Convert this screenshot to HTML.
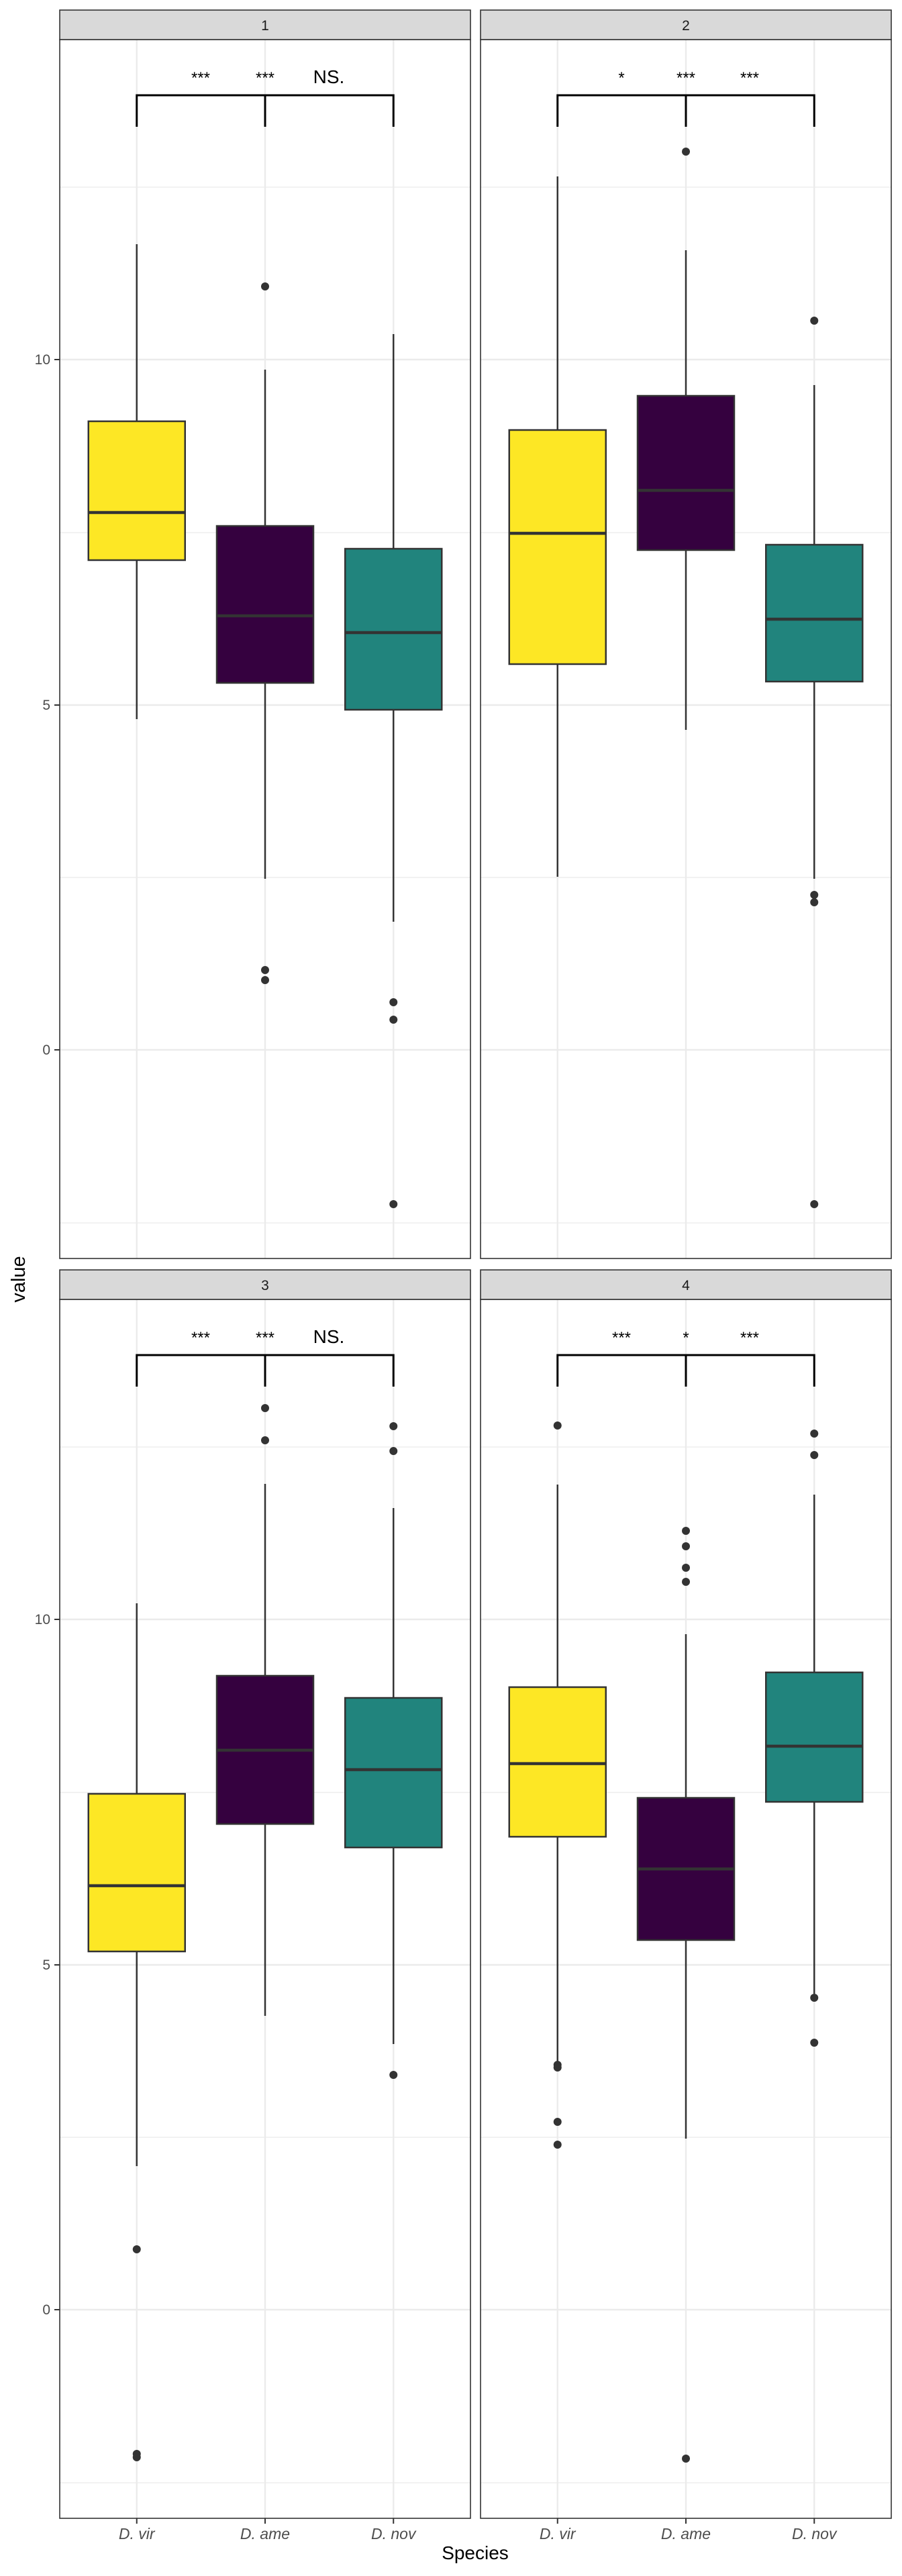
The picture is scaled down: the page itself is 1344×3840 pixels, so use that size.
<!DOCTYPE html>
<html><head><meta charset="utf-8"><style>
html,body{margin:0;padding:0;background:#fff;}
svg{display:block;}
text{font-family:"Liberation Sans",sans-serif;}
</style></head><body>
<svg width="1344" height="3840" viewBox="0 0 1344 3840" xmlns="http://www.w3.org/2000/svg">
<defs>
<g id="grid">
  <rect x="0" y="0" width="612" height="1817" fill="#fff"/>
  <g stroke="#EBEBEB" stroke-width="1.2">
    <line x1="0" x2="612" y1="220" y2="220"/><line x1="0" x2="612" y1="735" y2="735"/>
    <line x1="0" x2="612" y1="1249" y2="1249"/><line x1="0" x2="612" y1="1764" y2="1764"/>
  </g>
  <g stroke="#EBEBEB" stroke-width="2.4">
    <line x1="0" x2="612" y1="477" y2="477"/><line x1="0" x2="612" y1="992" y2="992"/>
    <line x1="0" x2="612" y1="1506" y2="1506"/>
    <line x1="114.75" x2="114.75" y1="0" y2="1817"/><line x1="306" x2="306" y1="0" y2="1817"/>
    <line x1="497.25" x2="497.25" y1="0" y2="1817"/>
  </g>
  <g stroke="#000" stroke-width="3" fill="none">
    <polyline points="114.75,130 114.75,83 497.25,83 497.25,130"/>
    <line x1="306" y1="83" x2="306" y2="130"/>
  </g>
</g>
</defs>

<text x="37" y="1907" font-size="29" text-anchor="middle" transform="rotate(-90 37 1907)" fill="#000">value</text>

<!-- ===== Panel 1 ===== -->
<g transform="translate(89,59)">
  <use href="#grid"/>
  <text x="210" y="65" font-size="24" text-anchor="middle">***</text>
  <text x="306" y="65" font-size="24" text-anchor="middle">***</text>
  <text x="401" y="65" font-size="28" text-anchor="middle">NS.</text>
  <g stroke="#333" stroke-width="2.5">
    <line x1="114.75" x2="114.75" y1="305" y2="1013"/>
    <line x1="306" x2="306" y1="492" y2="1251"/>
    <line x1="497.25" x2="497.25" y1="439" y2="1315"/>
  </g>
  <g stroke="#333" stroke-width="2.5">
    <rect x="42.75" y="569" width="144" height="207" fill="#FDE725"/>
    <rect x="234" y="725" width="144" height="234" fill="#35013F"/>
    <rect x="425.25" y="759" width="144" height="240" fill="#21847D"/>
  </g>
  <g stroke="#333" stroke-width="4.5">
    <line x1="42.75" x2="186.75" y1="705" y2="705"/>
    <line x1="234" x2="378" y1="859" y2="859"/>
    <line x1="425.25" x2="569.25" y1="884" y2="884"/>
  </g>
  <g fill="#333">
    <circle cx="306" cy="368" r="6"/><circle cx="306" cy="1387" r="6"/><circle cx="306" cy="1402" r="6"/>
    <circle cx="497.25" cy="1435" r="6"/><circle cx="497.25" cy="1461" r="6"/><circle cx="497.25" cy="1736" r="6"/>
  </g>
  <rect x="0" y="0" width="612" height="1817" fill="none" stroke="#333" stroke-width="1.6"/>
</g>
<rect x="89" y="15" width="612" height="44" fill="#D9D9D9" stroke="#333" stroke-width="1.6"/>
<text x="395" y="45" font-size="21" text-anchor="middle" fill="#1A1A1A">1</text>

<!-- ===== Panel 2 ===== -->
<g transform="translate(716,59)">
  <use href="#grid"/>
  <text x="210" y="65" font-size="24" text-anchor="middle">*</text>
  <text x="306" y="65" font-size="24" text-anchor="middle">***</text>
  <text x="401" y="65" font-size="24" text-anchor="middle">***</text>
  <g stroke="#333" stroke-width="2.5">
    <line x1="114.75" x2="114.75" y1="204" y2="1248"/>
    <line x1="306" x2="306" y1="314" y2="1029"/>
    <line x1="497.25" x2="497.25" y1="515" y2="1251"/>
  </g>
  <g stroke="#333" stroke-width="2.5">
    <rect x="42.75" y="582" width="144" height="349" fill="#FDE725"/>
    <rect x="234" y="531" width="144" height="230" fill="#35013F"/>
    <rect x="425.25" y="753" width="144" height="204" fill="#21847D"/>
  </g>
  <g stroke="#333" stroke-width="4.5">
    <line x1="42.75" x2="186.75" y1="736" y2="736"/>
    <line x1="234" x2="378" y1="672" y2="672"/>
    <line x1="425.25" x2="569.25" y1="864" y2="864"/>
  </g>
  <g fill="#333">
    <circle cx="306" cy="167" r="6"/>
    <circle cx="497.25" cy="419" r="6"/><circle cx="497.25" cy="1275" r="6"/><circle cx="497.25" cy="1286" r="6"/><circle cx="497.25" cy="1736" r="6"/>
  </g>
  <rect x="0" y="0" width="612" height="1817" fill="none" stroke="#333" stroke-width="1.6"/>
</g>
<rect x="716" y="15" width="612" height="44" fill="#D9D9D9" stroke="#333" stroke-width="1.6"/>
<text x="1022" y="45" font-size="21" text-anchor="middle" fill="#1A1A1A">2</text>

<!-- ===== Panel 3 ===== -->
<g transform="translate(89,1937)">
  <use href="#grid"/>
  <text x="210" y="65" font-size="24" text-anchor="middle">***</text>
  <text x="306" y="65" font-size="24" text-anchor="middle">***</text>
  <text x="401" y="65" font-size="28" text-anchor="middle">NS.</text>
  <g stroke="#333" stroke-width="2.5">
    <line x1="114.75" x2="114.75" y1="453" y2="1292"/>
    <line x1="306" x2="306" y1="275" y2="1068"/>
    <line x1="497.25" x2="497.25" y1="311" y2="1110"/>
  </g>
  <g stroke="#333" stroke-width="2.5">
    <rect x="42.75" y="737" width="144" height="235" fill="#FDE725"/>
    <rect x="234" y="561" width="144" height="221" fill="#35013F"/>
    <rect x="425.25" y="594" width="144" height="223" fill="#21847D"/>
  </g>
  <g stroke="#333" stroke-width="4.5">
    <line x1="42.75" x2="186.75" y1="874" y2="874"/>
    <line x1="234" x2="378" y1="672" y2="672"/>
    <line x1="425.25" x2="569.25" y1="701" y2="701"/>
  </g>
  <g fill="#333">
    <circle cx="114.75" cy="1416" r="6"/><circle cx="114.75" cy="1721" r="6"/><circle cx="114.75" cy="1726" r="6"/>
    <circle cx="306" cy="162" r="6"/><circle cx="306" cy="210" r="6"/>
    <circle cx="497.25" cy="189" r="6"/><circle cx="497.25" cy="226" r="6"/><circle cx="497.25" cy="1156" r="6"/>
  </g>
  <rect x="0" y="0" width="612" height="1817" fill="none" stroke="#333" stroke-width="1.6"/>
</g>
<rect x="89" y="1893" width="612" height="44" fill="#D9D9D9" stroke="#333" stroke-width="1.6"/>
<text x="395" y="1923" font-size="21" text-anchor="middle" fill="#1A1A1A">3</text>

<!-- ===== Panel 4 ===== -->
<g transform="translate(716,1937)">
  <use href="#grid"/>
  <text x="210" y="65" font-size="24" text-anchor="middle">***</text>
  <text x="306" y="65" font-size="24" text-anchor="middle">*</text>
  <text x="401" y="65" font-size="24" text-anchor="middle">***</text>
  <g stroke="#333" stroke-width="2.5">
    <line x1="114.75" x2="114.75" y1="276" y2="1141"/>
    <line x1="306" x2="306" y1="499" y2="1251"/>
    <line x1="497.25" x2="497.25" y1="291" y2="1035"/>
  </g>
  <g stroke="#333" stroke-width="2.5">
    <rect x="42.75" y="578" width="144" height="223" fill="#FDE725"/>
    <rect x="234" y="743" width="144" height="212" fill="#35013F"/>
    <rect x="425.25" y="556" width="144" height="193" fill="#21847D"/>
  </g>
  <g stroke="#333" stroke-width="4.5">
    <line x1="42.75" x2="186.75" y1="692" y2="692"/>
    <line x1="234" x2="378" y1="849" y2="849"/>
    <line x1="425.25" x2="569.25" y1="666" y2="666"/>
  </g>
  <g fill="#333">
    <circle cx="114.75" cy="188" r="6"/><circle cx="114.75" cy="1141" r="6"/><circle cx="114.75" cy="1145" r="6"/><circle cx="114.75" cy="1226" r="6"/><circle cx="114.75" cy="1260" r="6"/>
    <circle cx="306" cy="345" r="6"/><circle cx="306" cy="368" r="6"/><circle cx="306" cy="400" r="6"/><circle cx="306" cy="421" r="6"/><circle cx="306" cy="1728" r="6"/>
    <circle cx="497.25" cy="200" r="6"/><circle cx="497.25" cy="232" r="6"/><circle cx="497.25" cy="1041" r="6"/><circle cx="497.25" cy="1108" r="6"/>
  </g>
  <rect x="0" y="0" width="612" height="1817" fill="none" stroke="#333" stroke-width="1.6"/>
</g>
<rect x="716" y="1893" width="612" height="44" fill="#D9D9D9" stroke="#333" stroke-width="1.6"/>
<text x="1022" y="1923" font-size="21" text-anchor="middle" fill="#1A1A1A">4</text>

<g stroke="#333" stroke-width="2">
  <line x1="81" x2="89" y1="536" y2="536"/><line x1="81" x2="89" y1="1051" y2="1051"/><line x1="81" x2="89" y1="1565" y2="1565"/>
  <line x1="81" x2="89" y1="2414" y2="2414"/><line x1="81" x2="89" y1="2929" y2="2929"/><line x1="81" x2="89" y1="3443" y2="3443"/>
</g>
<g font-size="21" fill="#4D4D4D" text-anchor="end">
  <text x="75" y="543">10</text><text x="75" y="1058">5</text><text x="75" y="1572">0</text>
  <text x="75" y="2421">10</text><text x="75" y="2936">5</text><text x="75" y="3450">0</text>
</g>

<g stroke="#333" stroke-width="2">
  <line x1="203.75" x2="203.75" y1="3754" y2="3762"/><line x1="395" x2="395" y1="3754" y2="3762"/><line x1="586.25" x2="586.25" y1="3754" y2="3762"/>
  <line x1="830.75" x2="830.75" y1="3754" y2="3762"/><line x1="1022" x2="1022" y1="3754" y2="3762"/><line x1="1213.25" x2="1213.25" y1="3754" y2="3762"/>
</g>
<g font-size="23" fill="#4D4D4D" text-anchor="middle" font-style="italic">
  <text x="203.75" y="3785">D. vir</text><text x="395" y="3785">D. ame</text><text x="586.25" y="3785">D. nov</text>
  <text x="830.75" y="3785">D. vir</text><text x="1022" y="3785">D. ame</text><text x="1213.25" y="3785">D. nov</text>
</g>
<text x="708" y="3815" font-size="28" text-anchor="middle" fill="#000">Species</text>
</svg>
</body></html>
